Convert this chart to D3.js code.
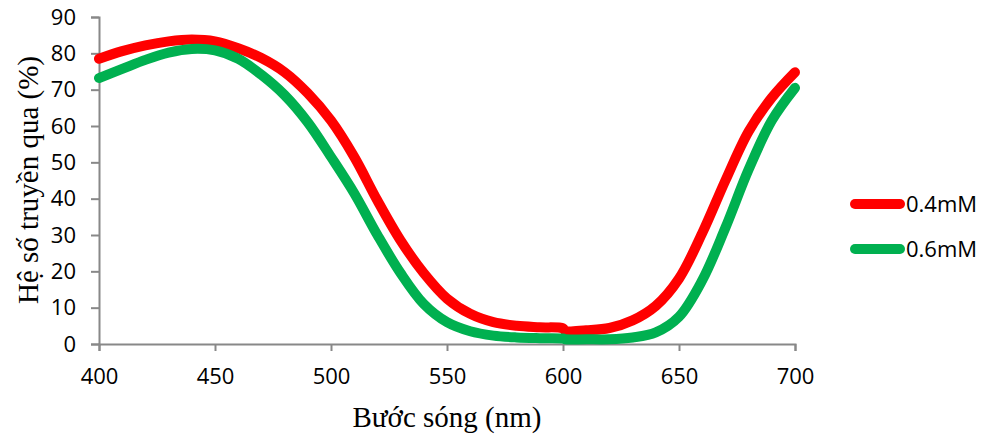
<!DOCTYPE html>
<html>
<head>
<meta charset="utf-8">
<script src="https://cdn.jsdelivr.net/npm/d3@7"></script>
<style>
  html, body { margin: 0; padding: 0; background: #fff; }
  svg { display: block; }
</style>
</head>
<body>
<svg id="chart" width="982" height="434"></svg>
<script>
const wavelengths = [400,410,420,430,440,450,460,470,480,490,500,510,520,530,540,550,560,570,580,590,600,601,610,620,630,640,650,660,670,680,690,700];
const series04 = [78.5,80.6,82.2,83.3,83.8,83.3,81.4,78.7,74.8,69.0,61.5,51.5,39.5,28.5,19.5,12.5,8.3,6.0,5.0,4.6,4.3,3.6,3.8,4.4,6.5,10.5,18.0,30.5,45.0,58.5,67.8,74.8];
const series06 = [73.2,75.7,78.2,80.2,81.2,80.8,78.5,74.1,68.5,61.0,51.5,41.5,30.0,19.5,11.0,6.0,3.5,2.3,1.8,1.6,1.5,1.3,1.3,1.3,1.8,3.2,7.5,17.5,32.0,48.0,61.5,70.5];
const seriesNames = ["0.4mM", "0.6mM"];
const seriesColors = ["#ff0000", "#00b050"];
const xTicks = [400,450,500,550,600,650,700];
const yTicks = [0,10,20,30,40,50,60,70,80,90];
const xTitle = "Bước sóng (nm)";
const yTitle = "Hệ số truyền qua (%)";

const svg = d3.select("#chart");
const x = d3.scaleLinear().domain([400, 700]).range([99, 795]);
const y = d3.scaleLinear().domain([0, 90]).range([344, 17]);
const axisColor = "#888888";
const tickFont = "'Open Sans', 'Noto Sans', sans-serif";
const serif = "'Liberation Serif', 'Times New Roman', serif";

// Y axis
const gy = svg.append("g").attr("transform", "translate(99,0)")
  .call(d3.axisLeft(y).tickValues(yTicks).tickSize(8).tickPadding(15).tickFormat(d3.format("d")));
gy.select(".domain").attr("stroke", axisColor).attr("stroke-width", 2);
gy.selectAll(".tick line").attr("stroke", axisColor).attr("stroke-width", 2);
gy.selectAll(".tick text").attr("font-family", tickFont).attr("font-size", 22).attr("fill", "#000");

// X axis
const gx = svg.append("g").attr("transform", "translate(0,344)")
  .call(d3.axisBottom(x).tickValues(xTicks).tickSize(7).tickPadding(17).tickFormat(d3.format("d")));
gx.select(".domain").attr("stroke", axisColor).attr("stroke-width", 2);
gx.selectAll(".tick line").attr("stroke", axisColor).attr("stroke-width", 2);
gx.selectAll(".tick text").attr("font-family", tickFont).attr("font-size", 22).attr("fill", "#000");

// Lines
const allSeries = [series04, series06];
const line = d3.line()
  .x((d, i) => x(wavelengths[i]))
  .y(d => y(d))
  .curve(d3.curveCatmullRom.alpha(0.5));
allSeries.forEach((s, k) => {
  svg.append("path")
    .datum(s)
    .attr("d", line)
    .attr("fill", "none")
    .attr("stroke", seriesColors[k])
    .attr("stroke-width", 10)
    .attr("stroke-linecap", "round")
    .attr("stroke-linejoin", "round");
});

// Legend
const legendY = [204, 249];
seriesNames.forEach((name, k) => {
  svg.append("line")
    .attr("x1", 855).attr("x2", 900)
    .attr("y1", legendY[k]).attr("y2", legendY[k])
    .attr("stroke", seriesColors[k]).attr("stroke-width", 10)
    .attr("stroke-linecap", "round");
  svg.append("text")
    .attr("x", 906).attr("y", legendY[k] + 8)
    .attr("font-family", tickFont).attr("font-size", 22).attr("fill", "#000")
    .text(name);
});

// Axis titles
svg.append("text")
  .attr("x", 447).attr("y", 427)
  .attr("text-anchor", "middle")
  .attr("font-family", serif).attr("font-size", 29).attr("fill", "#000")
  .text(xTitle);
svg.append("text")
  .attr("transform", "translate(38,180) rotate(-90)")
  .attr("text-anchor", "middle")
  .attr("font-family", serif).attr("font-size", 29).attr("fill", "#000")
  .text(yTitle);
</script>
</body>
</html>
